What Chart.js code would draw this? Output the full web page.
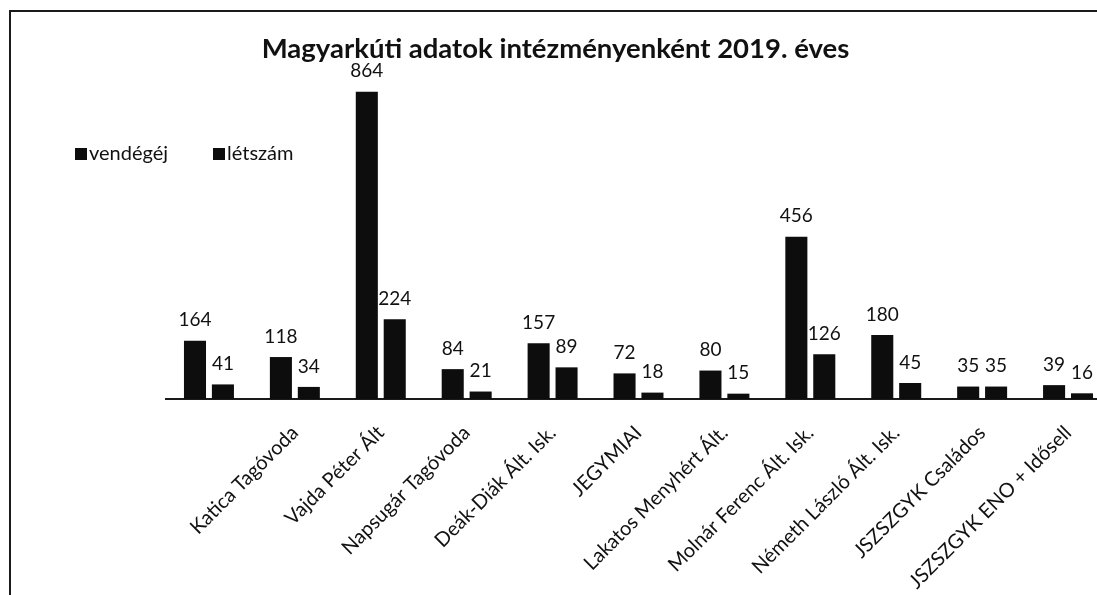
<!DOCTYPE html>
<html>
<head>
<meta charset="utf-8">
<script src="https://cdn.jsdelivr.net/npm/chart.js@4/dist/chart.umd.min.js"></script>
<style>
  html, body { margin: 0; padding: 0; background: #fff; overflow: hidden; }
  #wrap { position: absolute; left: 0; top: 0; width: 1120px; height: 595px; }
  #frame { position: absolute; left: 9px; top: 10px; width: 1200px; height: 700px;
           border-left: 2px solid #1a1a1a; border-top: 2px solid #1a1a1a; pointer-events: none; }
  #legend { position: absolute; left: 75px; top: 140px; font: 20px Lato, sans-serif; color: #111; white-space: nowrap; }
  #legend span { display: inline-block; width: 138px; }
  #legend i { display: inline-block; width: 12px; height: 12px; background: #0d0d0d; margin-right: 2px; }
</style>
</head>
<body>
<div id="wrap"><canvas id="c" width="1120" height="595"></canvas></div>
<div id="frame"></div>
<div id="legend"><span><i></i>vendégéj</span><span><i></i>létszám</span></div>
<script>
const categories = ['', 'Katica Tagóvoda', 'Vajda Péter Ált', 'Napsugár Tagóvoda', 'Deák-Diák Ált. Isk.', 'JEGYMIAI',
  'Lakatos Menyhért Ált.', 'Molnár Ferenc Ált. Isk.', 'Németh László Ált. Isk.', 'JSZSZGYK Családos', 'JSZSZGYK ENO + Idősell'];
const vendegej = [164, 118, 864, 84, 157, 72, 80, 456, 180, 35, 39];
const letszam = [41, 34, 224, 21, 89, 18, 15, 126, 45, 35, 16];

const valueLabels = {
  id: 'valueLabels',
  afterDatasetsDraw(chart) {
    const ctx = chart.ctx;
    ctx.save();
    ctx.font = '19px Lato, sans-serif';
    ctx.fillStyle = '#111';
    ctx.textAlign = 'center';
    ctx.textBaseline = 'bottom';
    chart.data.datasets.forEach((ds, i) => {
      chart.getDatasetMeta(i).data.forEach((bar, j) => {
        ctx.fillText(ds.data[j], bar.x, bar.y - 11);
      });
    });
    ctx.restore();
  }
};

new Chart(document.getElementById('c'), {
  type: 'bar',
  data: {
    labels: categories,
    datasets: [
      {label: 'vendégéj', data: vendegej, backgroundColor: '#0d0d0d', categoryPercentage: 0.65, barPercentage: 0.79},
      {label: 'létszám', data: letszam, backgroundColor: '#0d0d0d', categoryPercentage: 0.65, barPercentage: 0.79}
    ]
  },
  options: {
    responsive: false,
    animation: false,
    layout: {padding: {left: 0, right: 9, top: 0, bottom: 0}},
    plugins: {
      legend: {display: false},
      tooltip: {enabled: false},
      title: {
        display: true,
        text: 'Magyarkúti adatok intézményenként 2019. éves',
        color: '#111',
        font: {family: 'Lato', size: 27.5, weight: 'bold', lineHeight: 1.2},
        padding: {top: 33, bottom: 13}
      }
    },
    scales: {
      x: {
        grid: {display: false},
        border: {display: true, color: '#1a1a1a', width: 2},
        ticks: {color: '#111', font: {family: 'Lato', size: 20}, minRotation: 45, maxRotation: 45, autoSkip: false, padding: 14},
        afterFit(scale) { scale.height = 196; }
      },
      y: {
        min: 0,
        max: 900,
        grid: {display: false},
        border: {display: false},
        ticks: {display: false},
        afterFit(scale) { scale.width = 166; }
      }
    }
  },
  plugins: [valueLabels]
});
</script>
</body>
</html>
